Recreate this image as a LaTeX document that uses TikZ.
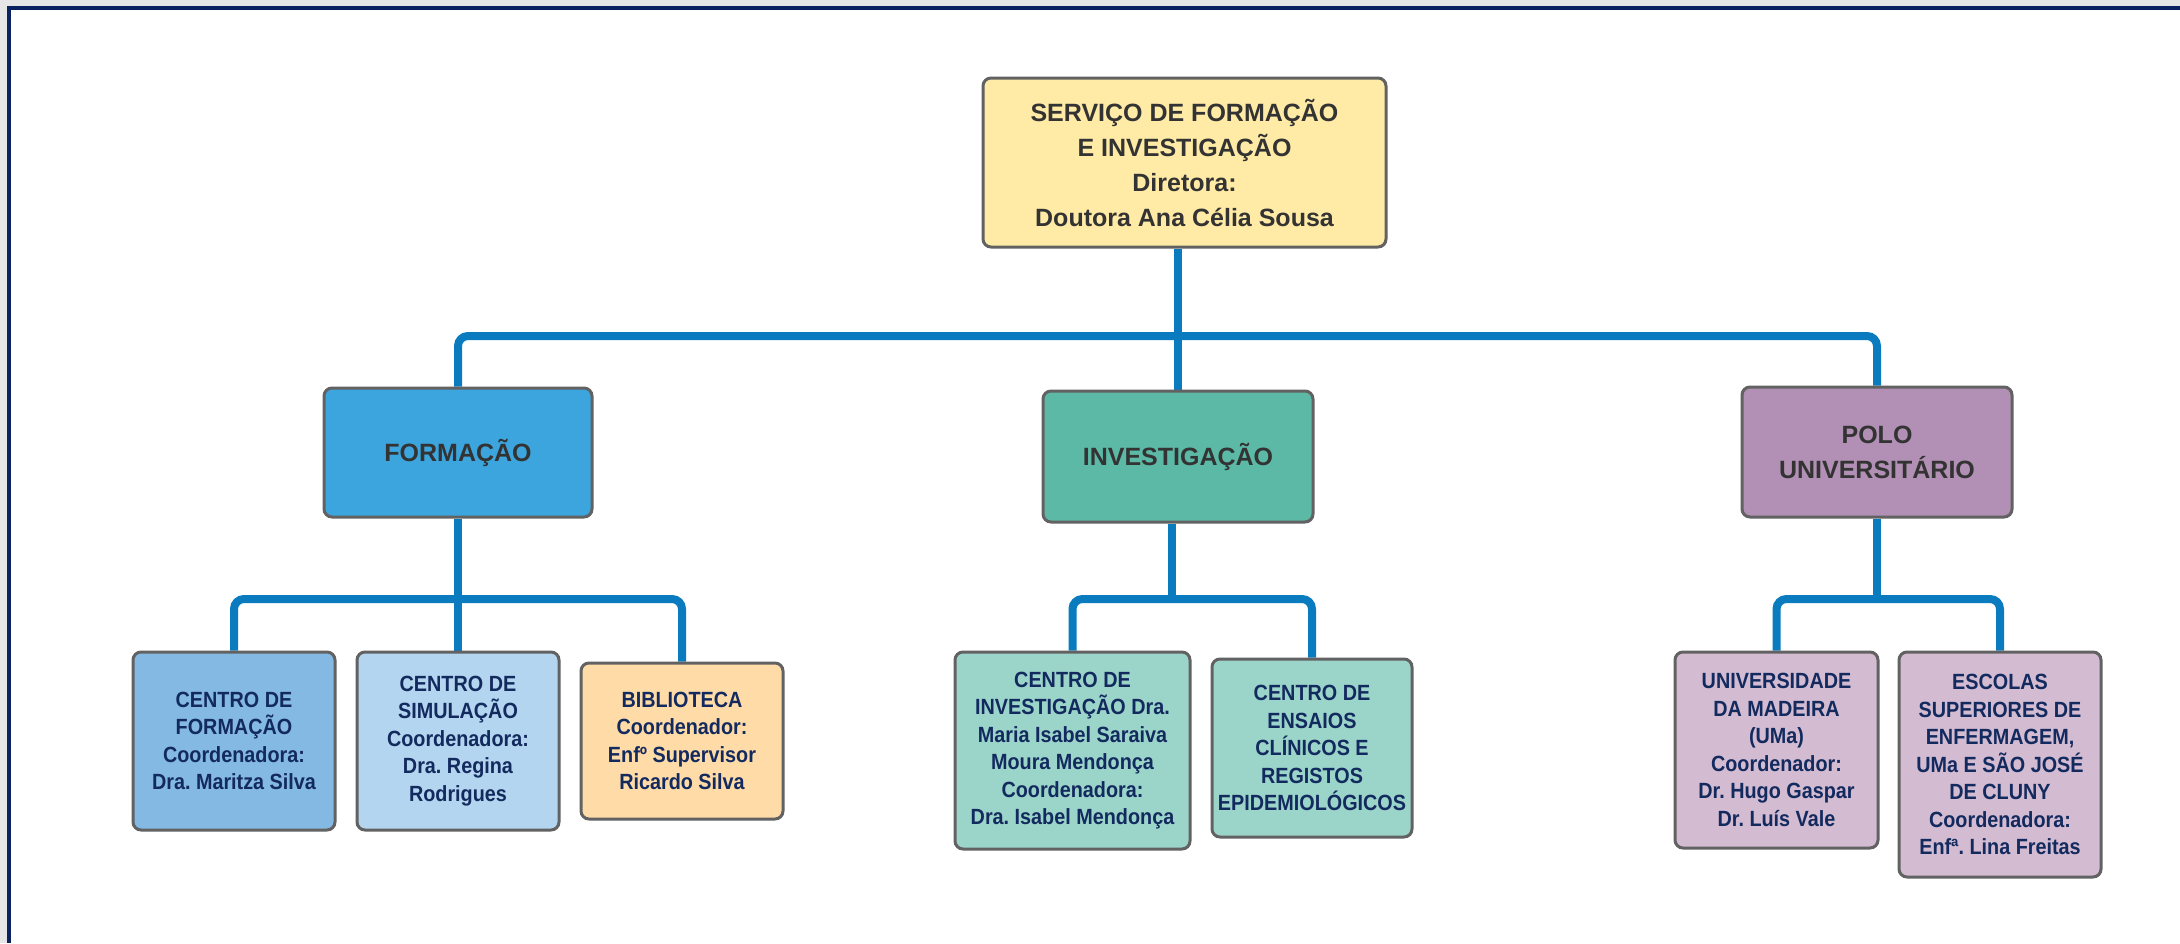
\documentclass[tikz,border=0pt]{standalone}
\usepackage{fontspec}
\setmainfont{Liberation Sans}
\newfontfamily\kidfont[FakeStretch=0.9]{Liberation Sans}
\usetikzlibrary{backgrounds}
\frenchspacing
\definecolor{bgray}{HTML}{E6E6E6}
\definecolor{navyframe}{HTML}{0A2260}
\definecolor{boxborder}{HTML}{626262}
\definecolor{connblue}{HTML}{0B7BC0}
\definecolor{toptext}{HTML}{333333}
\definecolor{kidtext}{HTML}{132A5E}
\definecolor{cyellow}{HTML}{FFEBA6}
\definecolor{cform}{HTML}{3CA5DD}
\definecolor{cinv}{HTML}{5BB9A6}
\definecolor{cpolo}{HTML}{B28FB4}
\definecolor{ccf}{HTML}{84B9E3}
\definecolor{ccs}{HTML}{B4D5EF}
\definecolor{cbib}{HTML}{FFDBA8}
\definecolor{cinvk}{HTML}{9BD5CA}
\definecolor{cpolok}{HTML}{D3BBD2}
\tikzset{
  orgbox/.style={draw=boxborder, line width=1.5pt, rounded corners=4pt, inner sep=0pt, align=center},
  topbox/.style={orgbox, text=toptext, font=\frenchspacing\bfseries\fontsize{12.5pt}{17.5pt}\selectfont},
  kidbox/.style={orgbox, text=kidtext, font=\frenchspacing\kidfont\bfseries\fontsize{11pt}{13.75pt}\selectfont},
  conn/.style={draw=connblue, line width=4pt, rounded corners=5pt}
}
\begin{document}
\begin{tikzpicture}[x=0.5pt,y=-0.5pt]
\useasboundingbox (0,0) rectangle (2180,943);

\node[topbox, fill=cyellow, minimum width=201.5pt, minimum height=84.5pt] (top) at (1184.5,162.5)
  {SERVIÇO DE FORMAÇÃO\\E INVESTIGAÇÃO\\Diretora:\\Doutora Ana Célia Sousa};

\node[topbox, fill=cform, minimum width=134pt, minimum height=64.5pt] (form) at (458,452.5) {FORMAÇÃO};
\node[topbox, fill=cinv, minimum width=135pt, minimum height=65.5pt] (inv) at (1178,456.5) {INVESTIGAÇÃO};
\node[topbox, fill=cpolo, minimum width=135pt, minimum height=65pt] (polo) at (1877,452) {POLO\\UNIVERSITÁRIO};

\node[kidbox, fill=ccf, minimum width=101pt, minimum height=89pt] (cf) at (234,741)
  {CENTRO DE\\FORMAÇÃO\\Coordenadora:\\Dra. Maritza Silva};
\node[kidbox, fill=ccs, minimum width=101pt, minimum height=89pt] (cs) at (458,741)
  {CENTRO DE\\SIMULAÇÃO\\Coordenadora:\\Dra. Regina\\Rodrigues};
\node[kidbox, fill=cbib, minimum width=101pt, minimum height=78pt] (bib) at (682,741)
  {BIBLIOTECA\\Coordenador:\\Enfº Supervisor\\Ricardo Silva};

\node[kidbox, fill=cinvk, minimum width=117.5pt, minimum height=98.5pt] (ci) at (1072.5,750.5)
  {CENTRO DE\\INVESTIGAÇÃO Dra.\\Maria Isabel Saraiva\\Moura Mendonça\\Coordenadora:\\Dra. Isabel Mendonça};
\node[kidbox, fill=cinvk, minimum width=100pt, minimum height=89pt] (ce) at (1312,748)
  {CENTRO DE\\ENSAIOS\\CLÍNICOS E\\REGISTOS\\EPIDEMIOLÓGICOS};

\node[kidbox, fill=cpolok, minimum width=101.5pt, minimum height=98pt] (um) at (1776.5,750)
  {UNIVERSIDADE\\DA MADEIRA\\(UMa)\\Coordenador:\\Dr. Hugo Gaspar\\Dr. Luís Vale};
\node[kidbox, fill=cpolok, minimum width=101pt, minimum height=112.5pt] (es) at (2000,764.5)
  {ESCOLAS\\SUPERIORES DE\\ENFERMAGEM,\\UMa E SÃO JOSÉ\\DE CLUNY\\Coordenadora:\\Enfª. Lina Freitas};

\begin{scope}[on background layer]
\fill[bgray] (0,0) rectangle (2180,943);
\fill[white] (9,8) rectangle (2180,943);
\draw[navyframe, line width=2pt] (9,943) -- (9,8) -- (2180,8);
\draw[conn] (form.north) |- (polo.north |- 0,336) -- (polo.north);
\draw[conn] (top.south -| inv.north) -- (inv.north);
\draw[conn] (cf.north) |- (bib.north |- 0,599) -- (bib.north);
\draw[conn] (form.south) -- (cs.north);
\draw[conn] ([xshift=-3pt]inv.south) -- ([xshift=-3pt]inv.south |- 0,599);
\draw[conn] (ci.north) |- (ce.north |- 0,599) -- (ce.north);
\draw[conn] (polo.south) -- (polo.south |- 0,599);
\draw[conn] (um.north) |- (es.north |- 0,599) -- (es.north);
\end{scope}
\end{tikzpicture}
\end{document}
